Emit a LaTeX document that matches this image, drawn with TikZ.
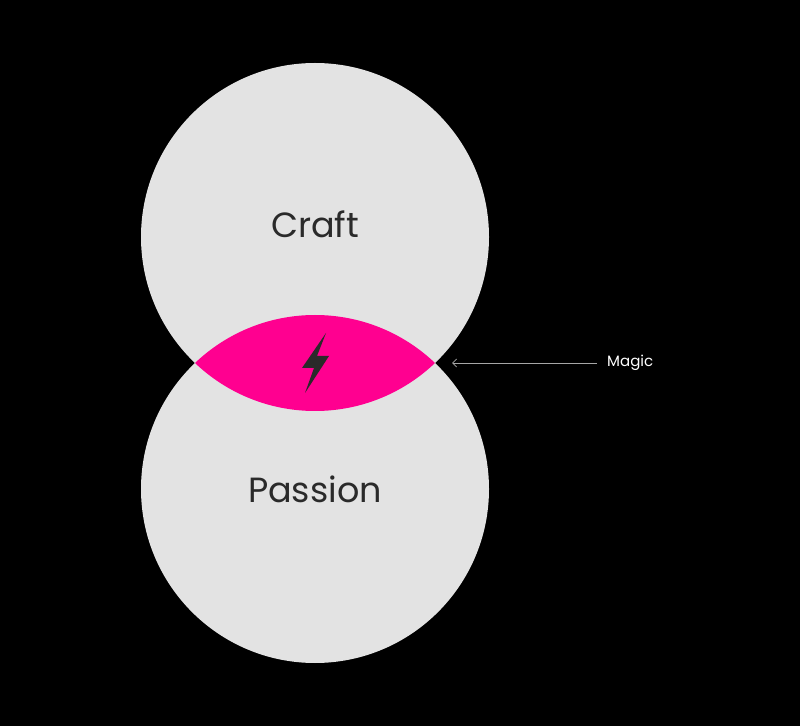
\documentclass[tikz,border=0pt]{standalone}
\usepackage{fontspec}
\setmainfont{Poppins}
\usetikzlibrary{arrows.meta}
\begin{document}
\begin{tikzpicture}[x=1pt,y=1pt,
  circ/.style={fill=circgray,draw=none},
  lbl/.style={text=textdark,font=\fontsize{35}{40}\selectfont}]
\definecolor{circgray}{HTML}{E3E3E3}
\definecolor{magpink}{HTML}{FF0090}
\definecolor{textdark}{HTML}{2A2A2A}
\fill[black] (0,0) rectangle (800,726);
\useasboundingbox (0,0) rectangle (800,726);
\fill[circ] (315,489) circle (174);
\fill[circ] (315,237) circle (174);
\begin{scope}
\clip (315,489) circle (174);
\fill[magpink] (315,237) circle (174);
\end{scope}
\fill[textdark] (326,393) -- (302,358) -- (314,358) -- (305,333) -- (329,370) -- (317,370) -- cycle;
\node[lbl] (craft) at (315,502) {Craft};
\node[lbl] (passion) at (315,237) {Passion};
\node[text=white,font=\fontsize{15}{18}\selectfont,anchor=west,inner sep=0pt] (magic) at (607,363) {Magic};
\coordinate (tip) at (452,363);
\draw[gray!70,line width=0.8pt,-{Straight Barb[length=4pt]}] ([xshift=-10pt]magic.west) -- (tip);
\end{tikzpicture}
\end{document}
